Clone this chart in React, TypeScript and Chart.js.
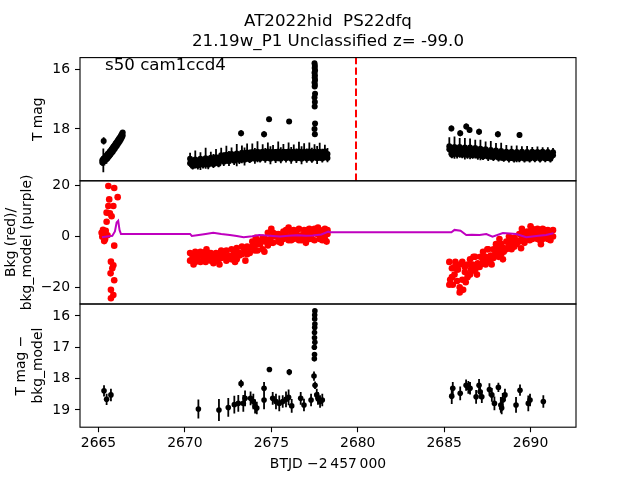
import { useEffect, useRef } from 'react';
import { Chart, registerables } from 'chart.js';

Chart.register(...registerables);

const FONT = '"DejaVu Sans", "Liberation Sans", sans-serif';

// ---------- text ----------
const titleLines = ['AT2022hid  PS22dfq', '21.19w_P1 Unclassified z= -99.0'];
const annotation = 's50 cam1ccd4';
const xLabel = 'BTJD \u22122\u2009457\u2009000';
const yLabelTop = ['T mag'];
const yLabelMid = ['Bkg (red)/', 'bkg_model (purple)'];
const yLabelBot = ['T mag \u2212', 'bkg_model'];

// ---------- axes ----------
const xMin = 2663.93;
const xMax = 2692.63;
const xTicks = [2665, 2670, 2675, 2680, 2685, 2690];
const topRange = [15.61, 19.735];
const topTicks = [16, 18];
const midRange = [-26.57, 21.93];
const midTicks = [20, 0, -20];
const botRange = [15.62, 19.55];
const botTicks = [16, 17, 18, 19];
const eventT = 2679.9;

// ---------- top panel: T mag light curve ----------
const t1 = [2665.22, 2665.28, 2665.34, 2665.40, 2665.46, 2665.52, 2665.58, 2665.64, 2665.70, 2665.76, 2665.82, 2665.88, 2665.94, 2666.00, 2666.06, 2666.12, 2666.18, 2666.24, 2666.30, 2666.36, 2666.40];
const mag1 = [19.05, 19.0, 18.98, 18.93, 18.90, 18.85, 18.82, 18.77, 18.73, 18.68, 18.63, 18.58, 18.54, 18.48, 18.44, 18.38, 18.33, 18.28, 18.22, 18.16, 18.12];
const mag1b = [19.12, 19.1, 19.08, 19.04, 19.01, 18.97, 18.93, 18.89, 18.85, 18.8, 18.76, 18.7, 18.66, 18.6, 18.56, 18.5, 18.45, 18.4, 18.34, 18.28, 18.22];
const err1 = [0.12, 0.35, 0.14, 0.12, 0.15, 0.12, 0.14, 0.12, 0.13, 0.12, 0.11, 0.12, 0.11, 0.12, 0.1, 0.11, 0.1, 0.1, 0.09, 0.09, 0.09];

const t2 = [2670.30, 2670.45, 2670.60, 2670.75, 2670.90, 2671.05, 2671.20, 2671.35, 2671.50, 2671.65, 2671.80, 2671.95, 2672.10, 2672.25, 2672.40, 2672.55, 2672.70, 2672.85, 2673.00, 2673.15, 2673.30, 2673.45, 2673.60, 2673.75, 2673.90, 2674.05, 2674.20, 2674.35, 2674.50, 2674.65, 2674.80, 2674.95, 2675.10, 2675.25, 2675.40, 2675.55, 2675.70, 2675.85, 2676.00, 2676.15, 2676.30, 2676.45, 2676.60, 2676.75, 2676.90, 2677.05, 2677.20, 2677.35, 2677.50, 2677.65, 2677.80, 2677.95, 2678.10, 2678.25];
const mag2 = [19.15, 19.12, 19.14, 19.10, 19.12, 19.08, 19.10, 19.06, 19.07, 19.04, 19.05, 19.02, 19.03, 19.0, 18.98, 18.99, 18.96, 18.95, 18.97, 18.93, 18.95, 18.92, 18.94, 18.91, 18.93, 18.90, 18.92, 18.89, 18.91, 18.88, 18.90, 18.88, 18.91, 18.87, 18.89, 18.88, 18.90, 18.87, 18.89, 18.88, 18.90, 18.87, 18.89, 18.88, 18.90, 18.87, 18.89, 18.88, 18.90, 18.87, 18.89, 18.88, 18.86, 18.84];
const err2 = [0.12, 0.15, 0.1, 0.14, 0.25, 0.12, 0.15, 0.11, 0.13, 0.2, 0.12, 0.16, 0.12, 0.22, 0.14, 0.25, 0.12, 0.18, 0.28, 0.13, 0.2, 0.3, 0.14, 0.22, 0.15, 0.26, 0.13, 0.2, 0.14, 0.24, 0.16, 0.3, 0.13, 0.2, 0.15, 0.27, 0.14, 0.2, 0.16, 0.28, 0.13, 0.22, 0.15, 0.3, 0.14, 0.22, 0.16, 0.25, 0.14, 0.3, 0.15, 0.22, 0.14, 0.2];
const mag2b = [19.0, 19.24, 19.02, 19.22, 19.0, 19.2, 18.98, 19.2, 18.96, 19.18, 18.95, 19.16, 18.88, 19.1, 18.86, 19.08, 18.84, 19.06, 18.82, 19.04, 18.8, 19.03, 18.79, 19.02, 18.77, 19.0, 18.76, 19.0, 18.76, 18.99, 18.75, 19.0, 18.76, 18.99, 18.75, 19.0, 18.76, 18.98, 18.75, 19.0, 18.76, 18.99, 18.75, 19.0, 18.76, 18.99, 18.75, 19.0, 18.76, 18.98, 18.76, 18.99, 18.75, 18.97];
const err2b = [0.2, 0.12, 0.3, 0.14, 0.22, 0.12, 0.35, 0.15, 0.2, 0.13, 0.28, 0.12, 0.25, 0.14, 0.3, 0.12, 0.22, 0.15, 0.32, 0.13, 0.25, 0.14, 0.3, 0.12, 0.28, 0.15, 0.35, 0.12, 0.25, 0.14, 0.3, 0.13, 0.22, 0.15, 0.33, 0.12, 0.26, 0.14, 0.3, 0.12, 0.24, 0.15, 0.32, 0.13, 0.28, 0.14, 0.3, 0.12, 0.25, 0.15, 0.3, 0.13, 0.22, 0.14];

const t3 = [2685.30, 2685.45, 2685.60, 2685.75, 2685.90, 2686.05, 2686.20, 2686.35, 2686.50, 2686.65, 2686.80, 2686.95, 2687.10, 2687.25, 2687.40, 2687.55, 2687.70, 2687.85, 2688.00, 2688.15, 2688.30, 2688.45, 2688.60, 2688.75, 2688.90, 2689.05, 2689.20, 2689.35, 2689.50, 2689.65, 2689.80, 2689.95, 2690.10, 2690.25, 2690.40, 2690.55, 2690.70, 2690.85, 2691.00, 2691.15, 2691.30];
const mag3 = [18.68, 18.74, 18.70, 18.76, 18.71, 18.75, 18.72, 18.77, 18.73, 18.76, 18.74, 18.78, 18.75, 18.79, 18.77, 18.81, 18.78, 18.82, 18.80, 18.84, 18.82, 18.86, 18.84, 18.87, 18.85, 18.88, 18.86, 18.89, 18.87, 18.89, 18.88, 18.90, 18.88, 18.89, 18.87, 18.90, 18.88, 18.89, 18.87, 18.90, 18.88];
const err3 = [0.2, 0.15, 0.3, 0.14, 0.25, 0.18, 0.3, 0.15, 0.28, 0.16, 0.25, 0.15, 0.3, 0.16, 0.22, 0.14, 0.25, 0.15, 0.2, 0.14, 0.24, 0.13, 0.2, 0.14, 0.22, 0.12, 0.25, 0.13, 0.18, 0.12, 0.2, 0.12, 0.16, 0.12, 0.14, 0.12, 0.15, 0.12, 0.2, 0.12, 0.12];
const mag3b = [18.58, 18.86, 18.6, 18.85, 18.6, 18.86, 18.62, 18.87, 18.62, 18.88, 18.64, 18.9, 18.66, 18.92, 18.68, 18.93, 18.7, 18.95, 18.72, 18.96, 18.74, 18.98, 18.76, 18.99, 18.76, 19.0, 18.77, 18.99, 18.76, 19.0, 18.77, 19.0, 18.76, 18.99, 18.77, 19.0, 18.76, 18.99, 18.77, 19.0, 18.78];
const err3b = [0.3, 0.12, 0.35, 0.14, 0.3, 0.12, 0.32, 0.13, 0.3, 0.12, 0.28, 0.13, 0.3, 0.12, 0.26, 0.14, 0.3, 0.12, 0.25, 0.13, 0.28, 0.12, 0.22, 0.13, 0.2, 0.12, 0.22, 0.12, 0.18, 0.12, 0.2, 0.12, 0.16, 0.12, 0.18, 0.12, 0.15, 0.12, 0.16, 0.12, 0.14];

const outT = [2665.30, 2673.25, 2674.58, 2674.87, 2676.03, 2677.50, 2677.52, 2677.51, 2677.53, 2677.50, 2677.52, 2677.51, 2677.53, 2677.50, 2677.52, 2677.51, 2677.53, 2677.50, 2677.52, 2677.51, 2677.53, 2677.50, 2677.52, 2685.42, 2685.93, 2686.28, 2686.47, 2687.02, 2688.11, 2689.36];
const outMag = [18.40, 18.14, 18.18, 17.67, 17.75, 15.80, 15.88, 15.96, 16.04, 16.12, 16.20, 16.28, 16.36, 16.44, 16.52, 16.58, 16.82, 16.95, 17.10, 17.25, 17.82, 18.00, 18.18, 17.98, 18.14, 17.92, 18.03, 18.09, 18.18, 18.20];
const outErr = [0.12, 0.1, 0.1, 0.08, 0.08, 0.05, 0.05, 0.05, 0.05, 0.05, 0.05, 0.05, 0.05, 0.05, 0.05, 0.05, 0.06, 0.06, 0.06, 0.06, 0.08, 0.08, 0.08, 0.1, 0.1, 0.1, 0.1, 0.1, 0.1, 0.1];

// ---------- middle panel: background (red) and model (purple) ----------
const bkgT1 = [2665.18, 2665.22, 2665.26, 2665.30, 2665.33, 2665.36, 2665.38, 2665.42, 2665.47, 2665.47, 2665.52, 2665.57, 2665.57, 2665.62, 2665.66, 2665.70, 2665.72, 2665.72, 2665.72, 2665.76, 2665.80, 2665.86, 2665.86, 2665.86, 2665.91, 2665.91, 2665.91, 2666.11];
const bkgV1 = [1.5, -0.1, 2.6, 0.6, -1.8, 1.2, -1.1, 2.2, 9.4, 5.8, 0.5, 19.9, 12.0, 14.6, 9.1, -14.5, -9.9, -21.0, -24.3, 8.0, -12.5, 12.0, -11.3, -23.0, 19.1, -3.6, -17.2, 15.5];
const bkgV2 = [-6.5, -8.5, -10, -8, -6, -8, -10, -8.5, -6.5, -8, -9.5, -7.5, -5.5, -7.5, -9.5, -7.5, -5, -7, -9, -6.5, -4, -5.5, -7, -4.5, -2, -3.5, -5.5, -3, -0.5, -2, -3.5, -1, 1.5, 0, -2, 0, 2, 0.5, -1.5, 0.5, 2.5, 0.5, -1.5, 0.5, 2.5, 0.5, -1, 1, 3, 1, -1, 1, 3, 1];
const bkgV2b = [-9.5, -7.5, -6, -9.5, -10, -6.5, -6, -7, -9.5, -10.5, -6.5, -9, -8.5, -6, -5.5, -8.5, -9, -6.5, -4.5, -7.5, -7, -5, -4, -6.5, -4, -5.5, -1.5, -2.5, -5, -1, 1.5, -2.5, -2.5, 1, 1, -2.5, -1, 2.5, 2.5, -1.5, -1, 2, 3, -1.5, -1, 2.5, 3, -1, -1.5, 3, 2.5, -1.5, -1, 2.5];
const bkgV3 = [-10, -12.5, -15, -17.5, -20, -17, -14, -11, -9, -11, -13, -10.5, -8, -6, -8, -10, -7.5, -5, -3, -5, -7, -4.5, -2, 0, -2, -4, -1.5, 1, 3, 1, -1, 1, 3, 1, -1, 1, 3, 1, -1, 1, 2.5];
const bkgV3b = [-19, -16, -12, -13, -11, -10, -12, -16, -15, -13.5, -8, -12, -11, -10, -11, -5, -9, -8.5, -6.5, -8, -3, -6, -5, -3.5, -5, -0.5, -3, -2, -1, -2.5, 2, -1.5, -1, 2.5, 3, -1.5, -1, 2.5, 2.5, -1.5, 0];
const bkgExtraT = [2670.50, 2671.25, 2672.00, 2672.90, 2673.50, 2674.10, 2674.60, 2675.00, 2676.00, 2677.00, 2677.70, 2678.20, 2685.35, 2685.50, 2685.65, 2685.80, 2685.90, 2686.10, 2686.25, 2686.40, 2686.55, 2686.70, 2686.90, 2687.05, 2687.30, 2687.50, 2687.75, 2687.95, 2688.20, 2688.40, 2689.45, 2690.00, 2690.60];
const bkgExtraV = [-11, -5, -11, -10, -9.5, -0.5, -6, 3, 3.5, -2.5, 3.5, -2, -17, -19, -10, -13, -22, -21, -18, -15, -13, -8, -15, -12, -10.5, -5, -11, -7, -1, -9, -4.6, 4, -3];

const modelT = [2665.20, 2665.50, 2665.80, 2665.95, 2666.05, 2666.14, 2666.22, 2666.30, 2670.30, 2670.40, 2670.80, 2671.20, 2671.64, 2672.10, 2672.60, 2673.00, 2673.40, 2673.90, 2674.30, 2674.90, 2675.50, 2676.00, 2676.50, 2677.00, 2677.40, 2677.90, 2678.30, 2678.40, 2685.42, 2685.60, 2685.95, 2686.28, 2686.60, 2687.05, 2687.44, 2687.80, 2688.40, 2688.80, 2689.17, 2689.75, 2690.33, 2690.90, 2691.33];
const modelV = [-0.3, 0.0, 0.3, 2.0, 5.5, 6.2, 2.5, 1.0, 1.0, 0.2, 0.6, 1.0, 1.5, 1.0, 0.6, 0.2, -0.3, 0.1, 0.6, 0.3, 0.0, 0.3, 0.5, 0.3, 0.4, 0.8, 1.9, 1.7, 1.7, 2.6, 2.3, 0.6, 0.7, 0.6, 1.0, -0.1, 1.4, 1.2, 1.0, -0.3, 0.2, 0.6, 1.3];

// ---------- bottom panel: T mag - bkg_model (binned) ----------
const binT = [2665.32, 2665.47, 2665.72, 2670.78, 2671.97, 2672.51, 2672.86, 2673.09, 2673.25, 2673.38, 2673.48, 2673.80, 2673.96, 2674.06, 2674.16, 2674.58, 2674.58, 2674.89, 2675.08, 2675.27, 2675.46, 2675.66, 2675.85, 2676.00, 2676.04, 2676.18, 2676.70, 2676.89, 2677.30, 2677.47, 2677.53, 2677.49, 2677.50, 2677.49, 2677.52, 2677.50, 2677.50, 2677.51, 2677.52, 2677.51, 2677.51, 2677.52, 2677.63, 2677.70, 2677.82, 2677.95, 2685.44, 2685.50, 2685.93, 2686.27, 2686.40, 2686.50, 2686.85, 2687.02, 2687.08, 2687.18, 2687.62, 2687.76, 2687.91, 2688.14, 2688.28, 2688.33, 2688.39, 2688.52, 2689.16, 2689.39, 2689.87, 2689.97, 2690.74];
const binMag = [18.39, 18.66, 18.52, 18.97, 19.00, 18.92, 18.83, 18.79, 18.16, 18.79, 18.63, 18.63, 18.73, 18.89, 18.94, 18.31, 18.68, 17.71, 18.63, 18.73, 18.79, 18.73, 18.66, 18.60, 17.79, 18.87, 18.63, 18.84, 18.68, 17.92, 18.21, 17.37, 17.23, 17.00, 16.84, 16.70, 16.53, 16.37, 16.26, 16.10, 15.97, 15.84, 18.52, 18.63, 18.73, 18.68, 18.56, 18.31, 18.47, 18.21, 18.28, 18.31, 18.58, 18.21, 18.42, 18.58, 18.35, 18.52, 18.79, 18.28, 18.84, 18.94, 18.68, 18.52, 18.84, 18.37, 18.79, 18.68, 18.73];
const binErr = [0.18, 0.18, 0.2, 0.3, 0.35, 0.3, 0.28, 0.27, 0.12, 0.27, 0.25, 0.22, 0.25, 0.22, 0.2, 0.2, 0.3, 0.08, 0.2, 0.25, 0.25, 0.2, 0.25, 0.25, 0.1, 0.22, 0.2, 0.2, 0.2, 0.15, 0.12, 0.06, 0.06, 0.06, 0.05, 0.05, 0.05, 0.05, 0.05, 0.05, 0.05, 0.05, 0.2, 0.2, 0.2, 0.2, 0.25, 0.2, 0.22, 0.18, 0.2, 0.2, 0.22, 0.2, 0.22, 0.2, 0.2, 0.22, 0.22, 0.15, 0.25, 0.2, 0.22, 0.2, 0.25, 0.18, 0.25, 0.2, 0.2];

// ---------- helpers ----------
const pts = (xs: number[], ys: number[]) => xs.map((x, i) => ({ x, y: ys[i] }));
const fmt = (v: number) => (v < 0 ? '\u2212' + Math.abs(v) : String(v));
const setTicks = (vals: number[]) => (scale: any) => {
  scale.ticks = vals.map((value) => ({ value }));
};

const tickFont = { family: FONT, size: 13.9 };

const yAxis = (range: number[], ticks: number[], reverse: boolean, weight: number) => ({
  type: 'linear' as const,
  position: 'left' as const,
  stack: 'panels',
  stackWeight: 1,
  weight,
  reverse,
  min: range[0],
  max: range[1],
  afterBuildTicks: setTicks(ticks),
  afterFit: (s: any) => {
    s.width = 80;
  },
  ticks: { font: tickFont, color: '#000', padding: 5, callback: (v: any) => fmt(Number(v)) },
  grid: { display: true, drawOnChartArea: false, drawTicks: true, tickLength: 5, tickColor: '#000', tickWidth: 1.1, color: '#000' },
  border: { display: false },
});

const errorBarPlugin = {
  id: 'errorBars',
  beforeDatasetDraw(chart: any, args: any) {
    const ds = chart.data.datasets[args.index];
    if (!ds.errs) return;
    const xs = chart.scales.x;
    const ys = chart.scales[args.meta.yAxisID];
    const ctx = chart.ctx;
    const a = chart.chartArea;
    ctx.save();
    ctx.beginPath();
    ctx.rect(a.left, a.top, a.right - a.left, a.bottom - a.top);
    ctx.clip();
    ctx.strokeStyle = ds.errColor || '#000';
    ctx.lineWidth = ds.errWidth || 1.5;
    ctx.beginPath();
    ds.data.forEach((p: any, i: number) => {
      const e = ds.errs[i];
      const px = xs.getPixelForValue(p.x);
      ctx.moveTo(px, ys.getPixelForValue(p.y - e));
      ctx.lineTo(px, ys.getPixelForValue(p.y + e));
    });
    ctx.stroke();
    ctx.restore();
  },
};

const decorPlugin = {
  id: 'decor',
  afterDatasetsDraw(chart: any) {
    const ctx = chart.ctx;
    const xs = chart.scales.x;
    const ys = chart.scales.y;
    const px = xs.getPixelForValue(eventT);
    ctx.save();
    ctx.strokeStyle = '#ff0000';
    ctx.lineWidth = 2;
    ctx.setLineDash([7.4, 3.2]);
    ctx.beginPath();
    ctx.moveTo(px, ys.bottom);
    ctx.lineTo(px, ys.top);
    ctx.stroke();
    ctx.restore();
  },
  afterDraw(chart: any) {
    const ctx = chart.ctx;
    const a = chart.chartArea;
    const cx = (a.left + a.right) / 2;
    const panels = [chart.scales.y, chart.scales.y2, chart.scales.y3];
    ctx.save();
    ctx.strokeStyle = '#000';
    ctx.lineWidth = 1.1;
    panels.forEach((s: any) => {
      ctx.strokeRect(a.left, s.top, a.right - a.left, s.bottom - s.top);
    });
    ctx.fillStyle = '#000';
    ctx.font = `16.67px ${FONT}`;
    ctx.textAlign = 'center';
    ctx.textBaseline = 'alphabetic';
    ctx.fillText(titleLines[0], cx, 26);
    ctx.fillText(titleLines[1], cx, 46);
    ctx.textAlign = 'left';
    ctx.fillText(annotation, a.left + 25, panels[0].top + 12.5);
    ctx.font = `13.9px ${FONT}`;
    ctx.textAlign = 'center';
    ctx.fillText(xLabel, cx, 467.5);
    const drawY = (lines: string[], xs: number[], s: any) => {
      const cy = (s.top + s.bottom) / 2;
      lines.forEach((ln, i) => {
        ctx.save();
        ctx.translate(xs[i], cy);
        ctx.rotate(-Math.PI / 2);
        ctx.textAlign = 'center';
        ctx.textBaseline = 'middle';
        ctx.fillText(ln, 0, 0);
        ctx.restore();
      });
    };
    drawY(yLabelTop, [38.5], panels[0]);
    drawY(yLabelMid, [11, 27.5], panels[1]);
    drawY(yLabelBot, [21.5, 38], panels[2]);
    ctx.restore();
  },
};

export default function App() {
  const ref = useRef<HTMLCanvasElement>(null);
  useEffect(() => {
    if (!ref.current) return;
    const topPts = [
      ...pts(t1, mag1), ...pts(t1, mag1b),
      ...pts(t2, mag2), ...pts(t2, mag2b),
      ...pts(t3, mag3), ...pts(t3, mag3b),
      ...pts(outT, outMag),
    ];
    const topErr = [...err1, ...err1, ...err2, ...err2b, ...err3, ...err3b, ...outErr];
    const redPts = [
      ...pts(bkgT1, bkgV1),
      ...pts(t2, bkgV2), ...pts(t2, bkgV2b),
      ...pts(t3, bkgV3), ...pts(t3, bkgV3b),
      ...pts(bkgExtraT, bkgExtraV),
    ];
    const chart = new Chart(ref.current, {
      type: 'scatter',
      data: {
        datasets: [
          {
            label: 'bkg_model',
            data: pts(modelT, modelV),
            yAxisID: 'y2',
            showLine: true,
            borderColor: '#bf00bf',
            borderWidth: 2,
            pointRadius: 0,
            order: 0,
          } as any,
          {
            label: 'bkg',
            data: redPts,
            yAxisID: 'y2',
            pointRadius: 3.3,
            pointBackgroundColor: '#ff0000',
            pointBorderWidth: 0,
            order: 1,
          } as any,
          {
            label: 'T mag',
            data: topPts,
            yAxisID: 'y',
            pointRadius: 3,
            pointBackgroundColor: '#000',
            pointBorderWidth: 0,
            errs: topErr,
            errWidth: 1.8,
            order: 2,
          } as any,
          {
            label: 'T mag - bkg_model',
            data: pts(binT, binMag),
            yAxisID: 'y3',
            pointRadius: 2.8,
            pointBackgroundColor: '#000',
            pointBorderWidth: 0,
            errs: binErr,
            errWidth: 1.8,
            order: 3,
          } as any,
        ],
      },
      options: {
        animation: false,
        responsive: false,
        devicePixelRatio: 1,
        events: [],
        layout: { padding: { left: 0, right: 64, top: 57.6, bottom: 0 } },
        plugins: { legend: { display: false }, tooltip: { enabled: false }, title: { display: false } },
        scales: {
          x: {
            type: 'linear',
            position: 'bottom',
            min: xMin,
            max: xMax,
            afterBuildTicks: setTicks(xTicks),
            afterFit: (s: any) => {
              s.height = 52.8;
            },
            ticks: { font: tickFont, color: '#000', padding: 3, autoSkip: false, maxRotation: 0, callback: (v: any) => String(v) },
            grid: { display: true, drawOnChartArea: false, drawTicks: true, tickLength: 5, tickColor: '#000', tickWidth: 1.1, color: '#000' },
            border: { display: false },
          },
          y: yAxis(topRange, topTicks, true, 3),
          y2: yAxis(midRange, midTicks, false, 2),
          y3: yAxis(botRange, botTicks, true, 1),
        } as any,
      },
      plugins: [errorBarPlugin, decorPlugin],
    });
    return () => chart.destroy();
  }, []);
  return (
    <div style={{ position: 'absolute', left: 0, top: 0, width: 640, height: 480, background: '#fff' }}>
      <canvas ref={ref} width={640} height={480} style={{ display: 'block', width: 640, height: 480 }} />
    </div>
  );
}
